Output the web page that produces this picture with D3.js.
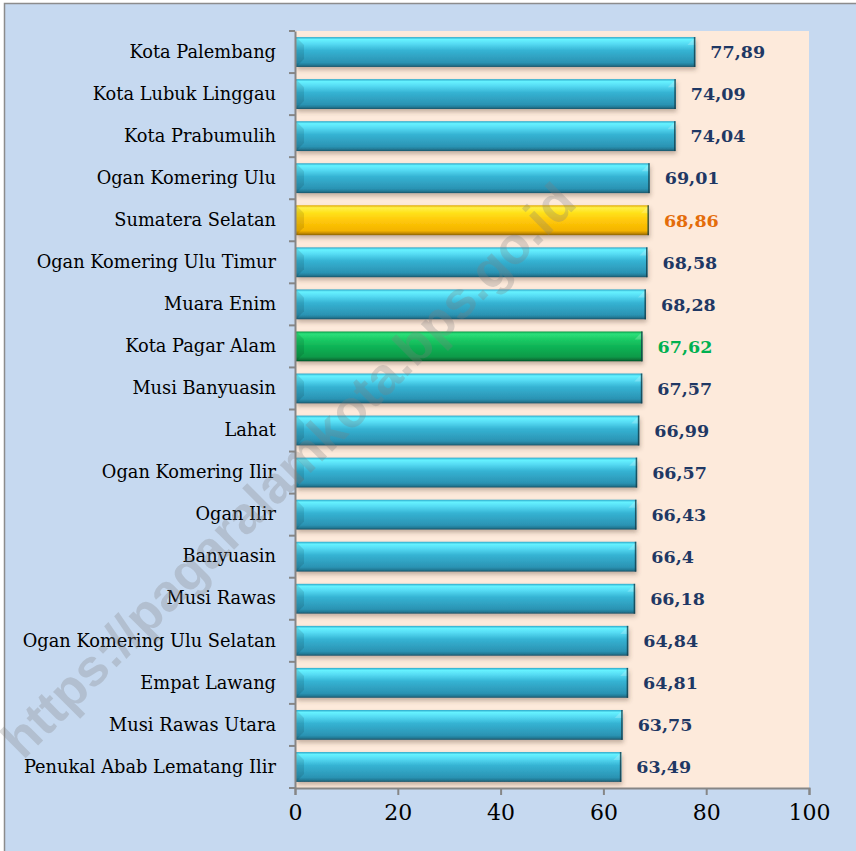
<!DOCTYPE html>
<html>
<head>
<meta charset="utf-8">
<script src="https://cdn.jsdelivr.net/npm/d3@7"></script>
<style>
  body { margin: 0; background: #fff; }
  svg { display: block; }
</style>
</head>
<body>
<div id="chart"></div>
<script>
// data
var regions = ['Kota Palembang', 'Kota Lubuk Linggau', 'Kota Prabumulih', 'Ogan Komering Ulu',
  'Sumatera Selatan', 'Ogan Komering Ulu Timur', 'Muara Enim', 'Kota Pagar Alam',
  'Musi Banyuasin', 'Lahat', 'Ogan Komering Ilir', 'Ogan Ilir', 'Banyuasin', 'Musi Rawas',
  'Ogan Komering Ulu Selatan', 'Empat Lawang', 'Musi Rawas Utara', 'Penukal Abab Lematang Ilir'];
var values = [77.89, 74.09, 74.04, 69.01, 68.86, 68.58, 68.28, 67.62, 67.57, 66.99,
  66.57, 66.43, 66.4, 66.18, 64.84, 64.81, 63.75, 63.49];
var xTicks = [0, 20, 40, 60, 80, 100];
var province = 'Sumatera Selatan';
var city = 'Kota Pagar Alam';

let width = 856, height = 851;
let plotLeft = 295, plotRight = 809, plotTop = 31, plotBottom = 788;

var data = regions.map((r, i) => ({ name: r, value: values[i] }));

var svg = d3.select('#chart').append('svg')
  .attr('width', width).attr('height', height);

var defs = svg.append('defs');
function grad(id, stops) {
  var g = defs.append('linearGradient').attr('id', id)
    .attr('x1', 0).attr('y1', 0).attr('x2', 0).attr('y2', 1);
  stops.forEach(s => g.append('stop').attr('offset', s[0]).attr('stop-color', s[1]));
}
grad('gBlue', [[0, '#2aa6c8'], [0.08, '#66f2ff'], [0.22, '#56dcf4'], [0.45, '#35b3d3'], [0.85, '#2b93b3'], [0.93, '#237c98'], [1, '#1b5569']]);
grad('gYellow', [[0, '#e0a800'], [0.08, '#fff04a'], [0.25, '#ffe21a'], [0.5, '#ffc90a'], [0.85, '#f4b400'], [0.93, '#c98e00'], [1, '#8a6200']]);
grad('gGreen', [[0, '#0a9a48'], [0.08, '#2ee07a'], [0.25, '#1ccc66'], [0.5, '#0fb456'], [0.85, '#0a9a48'], [0.93, '#087a3a'], [1, '#055228']]);

var shadow = defs.append('filter').attr('id', 'shadow')
  .attr('x', '-5%').attr('y', '-20%').attr('width', '110%').attr('height', '160%');
shadow.append('feDropShadow').attr('dx', 1).attr('dy', 3).attr('stdDeviation', 2)
  .attr('flood-color', '#5a4030').attr('flood-opacity', 0.35);

// background, frame runs past the right and bottom edge
svg.append('rect').attr('x', 4.5).attr('y', 3.5).attr('width', width + 10).attr('height', height + 10)
  .attr('fill', '#c6d9f0').attr('stroke', '#8c8c8c').attr('stroke-width', 1.5);
svg.append('rect').attr('x', plotLeft).attr('y', plotTop).attr('width', plotRight - plotLeft).attr('height', plotBottom - plotTop)
  .attr('fill', '#fdeadb');

let xScale = d3.scaleLinear().domain([0, 100]).range([plotLeft, plotRight]);
let yScale = d3.scaleBand().domain(regions).range([plotTop, plotBottom]).paddingInner(0.29).paddingOuter(0.145);

function fillFor(d) {
  if (d.name === province) return 'url(#gYellow)';
  if (d.name === city) return 'url(#gGreen)';
  return 'url(#gBlue)';
}
function labelColor(d) {
  if (d.name === province) return '#e46c0a';
  if (d.name === city) return '#00b050';
  return '#1f3864';
}

var bars = svg.append('g').selectAll('g.bar')
  .data(data).enter().append('g').attr('class', 'bar');

bars.append('rect')
  .attr('x', xScale(0) + 1)
  .attr('y', d => yScale(d.name))
  .attr('width', d => xScale(d.value) - xScale(0) - 1)
  .attr('height', yScale.bandwidth())
  .attr('fill', fillFor)
  .attr('filter', 'url(#shadow)');

// bevel facets on the bar ends
var bev = 8;
bars.append('path')
  .attr('d', d => {
    var x0 = xScale(0) + 1, y0 = yScale(d.name), h = yScale.bandwidth();
    return 'M' + x0 + ',' + y0 + 'L' + (x0 + bev) + ',' + (y0 + bev) + 'L' + (x0 + bev) + ',' + (y0 + h - bev) + 'L' + x0 + ',' + (y0 + h) + 'Z';
  })
  .attr('fill', '#000').attr('opacity', 0.1);
bars.append('path')
  .attr('d', d => {
    var x1 = xScale(d.value), y0 = yScale(d.name), h = yScale.bandwidth();
    return 'M' + x1 + ',' + y0 + 'L' + (x1 - bev) + ',' + (y0 + bev) + 'L' + x1 + ',' + (y0 + bev) + 'Z';
  })
  .attr('fill', '#fff').attr('opacity', 0.2);
bars.append('rect')
  .attr('x', d => xScale(d.value) - 1.5)
  .attr('y', d => yScale(d.name))
  .attr('width', 1.5)
  .attr('height', yScale.bandwidth())
  .attr('fill', '#123c48').attr('opacity', 0.8);

bars.append('text')
  .attr('x', d => xScale(d.value) + 15)
  .attr('y', d => yScale(d.name) + yScale.bandwidth() / 2)
  .attr('dy', '0.36em')
  .attr('font-family', 'DejaVu Serif')
  .attr('font-weight', 'bold')
  .attr('font-size', 17.5)
  .attr('fill', labelColor)
  .text(d => String(d.value).replace('.', ','));

// axes
let yAxis = d3.axisLeft(yScale).tickSize(0).tickPadding(19);
var gy = svg.append('g').attr('transform', 'translate(' + plotLeft + ',0)').call(yAxis);
gy.select('.domain').attr('stroke', '#868686').attr('stroke-width', 2);
gy.selectAll('text').attr('font-family', 'DejaVu Serif').attr('font-size', 17.8).attr('fill', '#000');
// category separators
var bounds = regions.map(r => yScale(r) - yScale.step() * yScale.paddingInner() / 2).concat([plotBottom]);
gy.selectAll('line.sep').data(bounds).enter().append('line').attr('class', 'sep')
  .attr('x1', -6).attr('x2', 0).attr('y1', d => d).attr('y2', d => d)
  .attr('stroke', '#868686').attr('stroke-width', 2);

let xAxis = d3.axisBottom(xScale).tickValues(xTicks).tickSize(7).tickPadding(9).tickFormat(d3.format('d'));
var gx = svg.append('g').attr('transform', 'translate(0,' + plotBottom + ')').call(xAxis);
gx.select('.domain').attr('stroke', '#868686').attr('stroke-width', 2);
gx.selectAll('line').attr('stroke', '#868686').attr('stroke-width', 2);
gx.selectAll('text').attr('font-family', 'DejaVu Serif').attr('font-size', 22).attr('fill', '#000');

// watermark
svg.append('text')
  .attr('transform', 'translate(288,470) rotate(-45)')
  .attr('text-anchor', 'middle')
  .attr('dy', '0.35em')
  .attr('font-family', 'Liberation Sans')
  .attr('font-weight', 'bold')
  .attr('font-size', 52)
  .attr('fill', '#7f7f7f')
  .attr('opacity', 0.28)
  .text('https://pagaralamkota.bps.go.id');
</script>
</body>
</html>
